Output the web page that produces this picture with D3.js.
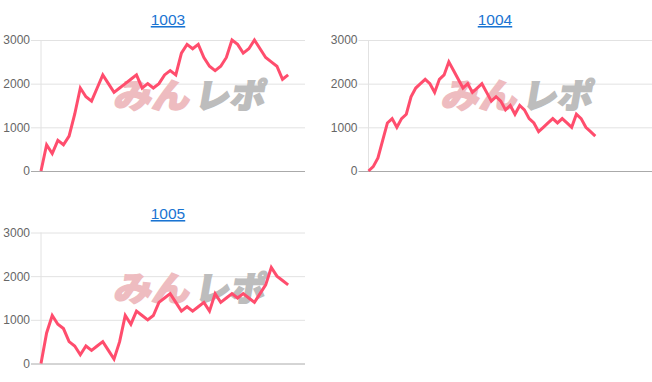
<!DOCTYPE html>
<html>
<head>
<meta charset="utf-8">
<script src="https://cdn.jsdelivr.net/npm/d3@7"></script>
<style>
  body { margin: 0; background: #fff; }
  svg { display: block; }
</style>
</head>
<body>
<div id="chart"></div>
<script>
// chart data
var titles = ["1003", "1004", "1005"];
var yTicks = [0, 1000, 2000, 3000];
var values1003 = [0, 600, 400, 700, 600, 800, 1300, 1900, 1700, 1600, 1900, 2200, 2000, 1800, 1900,
  2000, 2100, 2200, 1900, 2000, 1900, 2000, 2200, 2300, 2200, 2700, 2900, 2800, 2900, 2600,
  2400, 2300, 2400, 2600, 3000, 2900, 2700, 2800, 3000, 2800, 2600, 2500, 2400, 2100, 2200];
var values1004 = [0, 100, 300, 700, 1100, 1200, 1000, 1200, 1300, 1700, 1900, 2000, 2100, 2000, 1800,
  2100, 2200, 2500, 2300, 2100, 1900, 2000, 1800, 1900, 2000, 1800, 1600, 1700, 1600, 1400,
  1500, 1300, 1500, 1400, 1200, 1100, 900, 1000, 1100, 1200, 1100, 1200, 1100, 1000, 1300,
  1200, 1000, 900, 800];
var values1005 = [0, 700, 1100, 900, 800, 500, 400, 200, 400, 300, 400, 500, 300, 100, 500,
  1100, 900, 1200, 1100, 1000, 1100, 1400, 1500, 1600, 1400, 1200, 1300, 1200, 1300, 1400,
  1200, 1600, 1400, 1500, 1600, 1500, 1600, 1500, 1400, 1600, 1800, 2200, 2000, 1900, 1800];

var W = 652, H = 382;
var svg = d3.select("#chart").append("svg")
    .attr("width", W)
    .attr("height", H);

var panels = [
  {title: titles[0], data: values1003, left: 41, right: 305, top: 40, bottom: 171, slots: 47, tx: 168, ty: 25},
  {title: titles[1], data: values1004, left: 368.5, right: 652, top: 40, bottom: 171, slots: 60, tx: 495, ty: 25},
  {title: titles[2], data: values1005, left: 41, right: 305, top: 232.5, bottom: 363.5, slots: 47, tx: 168, ty: 219}
];

function drawPanel(p) {
    var g = svg.append("g");

    var x = d3.scaleLinear().domain([0, p.slots]).range([p.left, p.right]);
    var y = d3.scaleLinear().domain([0, 3000]).range([p.bottom, p.top]);

    // title link
    g.append("text")
        .attr("x", p.tx)
        .attr("y", p.ty)
        .attr("text-anchor", "middle")
        .style("font-family", "Arial, 'Liberation Sans', sans-serif")
        .style("font-size", "15.5px")
        .style("text-decoration", "underline")
        .attr("fill", "#1a74d2")
        .text(p.title);

    // gridlines + ticks
    var yAxis = g.append("g")
        .attr("transform", "translate(" + p.left + ",0)")
        .call(d3.axisLeft(y).tickValues(yTicks).tickSize(-(p.right - p.left)).tickPadding(11).tickFormat(d3.format("d")));
    yAxis.select(".domain").remove();
    yAxis.selectAll(".tick line")
        .attr("x1", -10)
        .attr("stroke", function(d) { return d == 0 ? "#aaaaaa" : "#e2e2e2"; });
    yAxis.selectAll(".tick text")
        .attr("fill", "#666")
        .style("font-family", "Arial, 'Liberation Sans', sans-serif")
        .style("font-size", "12px");

    // left border
    g.append("line")
        .attr("x1", p.left).attr("x2", p.left)
        .attr("y1", y(3000)).attr("y2", y(0) - 0.5)
        .attr("stroke", "#e2e2e2");

    // watermark
    var wm = g.append("g")
        .attr("transform", "translate(" + (p.left + 67) + "," + (p.top + 68) + ") skewX(-10)")
        .style("font-family", "'Noto Sans CJK JP', sans-serif")
        .style("font-weight", "900")
        .style("font-size", "34px");
    wm.append("text")
        .attr("x", 5).attr("y", 0)
        .attr("textLength", 76)
        .attr("lengthAdjust", "spacingAndGlyphs")
        .attr("fill", "#eebcc0")
        .attr("stroke", "#eebcc0")
        .attr("stroke-width", 1.6)
        .text("みん");
    wm.append("text")
        .attr("x", 86).attr("y", 0)
        .attr("textLength", 70)
        .attr("lengthAdjust", "spacingAndGlyphs")
        .attr("fill", "#bdbdbd")
        .attr("stroke", "#bdbdbd")
        .attr("stroke-width", 1.6)
        .text("レポ");

    // line
    g.append("path")
        .datum(p.data)
        .attr("fill", "none")
        .attr("stroke", "#ff4d6d")
        .attr("stroke-width", 3)
        .attr("stroke-linejoin", "miter")
        .attr("d", d3.line()
            .x(function(d, i) { return x(i); })
            .y(function(d) { return y(d); }));
}

panels.forEach(drawPanel);
</script>
</body>
</html>
